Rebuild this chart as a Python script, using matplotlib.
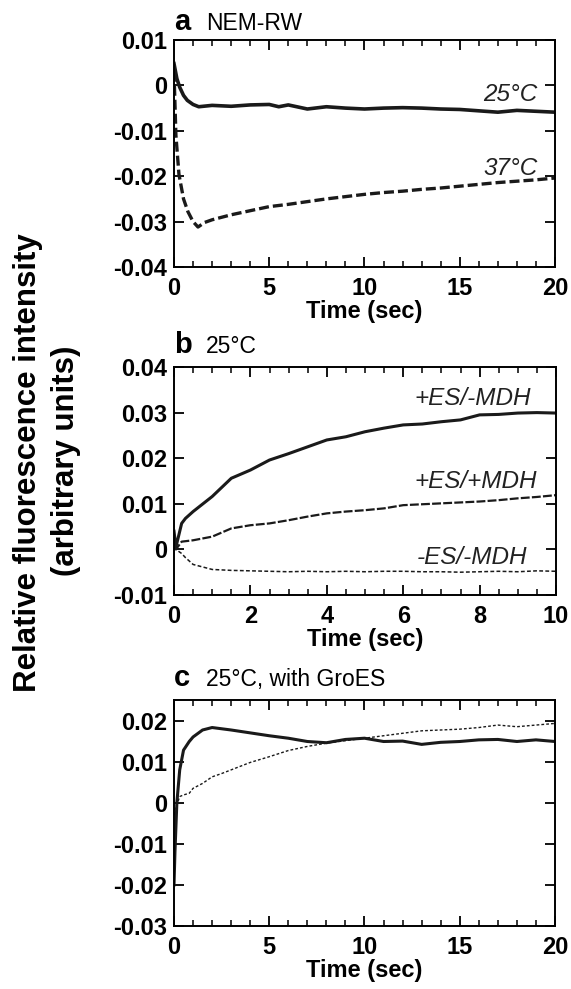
import matplotlib
matplotlib.use("Agg")
import matplotlib.pyplot as plt
from matplotlib.ticker import MultipleLocator, FuncFormatter

plt.rcParams['font.family'] = ['Liberation Sans', 'DejaVu Sans']

# ---------------- data ----------------
# panel a: NEM-RW
a_t25 = [0, 0.15, 0.3, 0.5, 0.7, 1.0, 1.3, 2, 3, 4, 5, 5.5, 6, 7, 8, 9, 10, 11, 12, 13, 14, 15, 16, 17, 18, 19, 20]
a_y25 = [0.0048, 0.0015, -0.0004, -0.0022, -0.0033, -0.0042, -0.0047, -0.0044, -0.0046, -0.0043, -0.0042,
         -0.0047, -0.0043, -0.0052, -0.0047, -0.0050, -0.0052, -0.0050, -0.0049, -0.0050, -0.0052, -0.0053,
         -0.0056, -0.0059, -0.0055, -0.0057, -0.0059]
a_t37 = [0, 0.1, 0.26, 0.5, 0.73, 1.0, 1.26, 1.6, 2, 3, 4, 5, 6, 7, 8, 9, 10, 11, 12, 13, 14, 15, 16, 17, 18, 19, 20]
a_y37 = [0.0030, -0.0110, -0.0196, -0.0250, -0.0278, -0.0300, -0.0312, -0.0302, -0.0296, -0.0285, -0.0276,
         -0.0267, -0.0262, -0.0256, -0.0250, -0.0245, -0.0240, -0.0236, -0.0233, -0.0229, -0.0226, -0.0222,
         -0.0218, -0.0214, -0.0211, -0.0208, -0.0204]

# panel b: 25°C
b_t = [0, 0.05, 0.2, 0.3, 0.5, 1.0, 1.5, 2.0, 2.5, 3.0, 3.5, 4.0, 4.5, 5.0, 5.5, 6.0, 6.5, 7.0, 7.5, 8.0, 8.5, 9.0, 9.5, 10.0]
b_es_nomdh = [0.0040, 0.0005, 0.0057, 0.0068, 0.0083, 0.0116, 0.0156, 0.0174, 0.0196, 0.0210, 0.0225, 0.0240,
              0.0247, 0.0258, 0.0266, 0.0273, 0.0275, 0.0280, 0.0284, 0.0295, 0.0296, 0.0299, 0.0300, 0.0299]
b_es_mdh = [0.0030, 0.0000, 0.0017, 0.0018, 0.0020, 0.0028, 0.0046, 0.0053, 0.0057, 0.0064, 0.0072, 0.0079,
            0.0083, 0.0086, 0.0090, 0.0097, 0.0099, 0.0101, 0.0103, 0.0105, 0.0108, 0.0112, 0.0115, 0.0119]
b_noes_nomdh = [0.0005, 0.0000, -0.0009, -0.0018, -0.0033, -0.0044, -0.0046, -0.0047, -0.0048, -0.0049, -0.0048, -0.0049,
                -0.0048, -0.0049, -0.0048, -0.0048, -0.0049, -0.0049, -0.0050, -0.0049, -0.0048, -0.0049, -0.0047, -0.0048]

# panel c: 25°C, with GroES
c_t = [0, 0.05, 0.15, 0.3, 0.5, 0.8, 1.0, 1.5, 2, 2.5, 3, 4, 5, 6, 7, 8, 9, 10, 11, 12, 13, 14, 15, 16, 17, 18, 19, 20]
c_solid = [-0.0200, -0.0120, 0.0000, 0.0080, 0.0128, 0.0149, 0.0160, 0.0177, 0.0183, 0.0180, 0.0177, 0.0170,
           0.0163, 0.0157, 0.0149, 0.0146, 0.0154, 0.0157, 0.0149, 0.0150, 0.0142, 0.0147, 0.0149, 0.0153,
           0.0154, 0.0149, 0.0153, 0.0149]
c_dotted = [-0.0030, -0.0015, -0.0005, 0.0015, 0.0019, 0.0023, 0.0035, 0.0047, 0.0063, 0.0071, 0.0080, 0.0098,
            0.0112, 0.0127, 0.0137, 0.0145, 0.0151, 0.0157, 0.0163, 0.0169, 0.0175, 0.0177, 0.0179, 0.0183,
            0.0189, 0.0185, 0.0189, 0.0193]

# ---------------- figure ----------------
W, H = 571, 989
fig = plt.figure(figsize=(W / 100, H / 100), dpi=100)

TICK_FS = 17
ANN_FS = 17.5
TITLE_FS = 16.5
LETTER_FS = 21


def make_ax(left, top, right, bottom):
    return fig.add_axes([left / W, 1 - bottom / H, (right - left) / W, (bottom - top) / H])


def fmt(v, pos):
    if abs(v) < 1e-12:
        return "0"
    return "%.2f" % v


def style(ax, xmaj, xmin, xlim, ylim, ymaj):
    ax.set_xlim(*xlim)
    ax.set_ylim(*ylim)
    ax.xaxis.set_major_locator(MultipleLocator(xmaj))
    ax.xaxis.set_minor_locator(MultipleLocator(xmin))
    ax.yaxis.set_major_locator(MultipleLocator(ymaj))
    ax.yaxis.set_major_formatter(FuncFormatter(fmt))
    ax.tick_params(axis='both', which='major', direction='in', length=7, width=1.3,
                   top=True, right=True, labelsize=TICK_FS)
    ax.tick_params(axis='x', which='major', pad=7)
    ax.tick_params(axis='y', which='major', pad=5)
    ax.tick_params(axis='x', which='minor', direction='in', length=4, width=1.1, top=True)
    ax.tick_params(axis='y', which='minor', left=False, right=False)
    for lab in ax.get_xticklabels() + ax.get_yticklabels():
        lab.set_fontweight('bold')
    for sp in ax.spines.values():
        sp.set_linewidth(1.4)
    ax.set_xlabel("Time (sec)", fontsize=TICK_FS, fontweight='bold', labelpad=0)


def ann(ax, x, y, s):
    ax.text(x, y, s, transform=ax.transAxes, ha='right', va='center',
            fontsize=ANN_FS, style='italic', color='#222222')


def title(letter, text, baseline_y):
    fig.text(174 / W, 1 - baseline_y / H, letter, fontsize=LETTER_FS, fontweight='bold',
             va='baseline', ha='left')
    fig.text(206 / W, 1 - baseline_y / H, text, fontsize=TITLE_FS, va='baseline', ha='left')


# panel a
axa = make_ax(174, 40, 555, 267)
axa.plot(a_t25, a_y25, color='#1a1a1a', lw=2.6)
axa.plot(a_t37, a_y37, color='#1a1a1a', lw=2.4, linestyle=(0, (3, 1.2)))
style(axa, 5, 1, (0, 20), (-0.04, 0.01), 0.01)
ann(axa, 0.955, 0.76, "25°C")
ann(axa, 0.955, 0.435, "37°C")
title("a", "NEM-RW", 30)

# panel b
axb = make_ax(174, 367, 556, 595)
axb.plot(b_t, b_es_nomdh, color='#1a1a1a', lw=2.2)
axb.plot(b_t, b_es_mdh, color='#1a1a1a', lw=1.6, linestyle=(0, (4, 1)))
axb.plot(b_t, b_noes_nomdh, color='#1a1a1a', lw=1.1, linestyle=(0, (2.5, 1.5)))
style(axb, 2, 0.5, (0, 10), (-0.01, 0.04), 0.01)
ann(axb, 0.935, 0.86, "+ES/-MDH")
ann(axb, 0.95, 0.50, "+ES/+MDH")
ann(axb, 0.925, 0.165, "-ES/-MDH")
title("b", "25°C", 353)

# panel c
axc = make_ax(174, 700, 555, 926)
axc.plot(c_t, c_solid, color='#1a1a1a', lw=2.2)
axc.plot(c_t, c_dotted, color='#1a1a1a', lw=1.0, linestyle=(0, (2, 1.5)))
style(axc, 5, 1, (0, 20), (-0.03, 0.025), 0.01)
title("c", "25°C, with GroES", 686)

# shared y label
fig.text(28 / W, 1 - 463 / H, "Relative fluorescence intensity", rotation=90,
         fontsize=22.5, fontweight='bold', ha='center', va='center')
fig.text(66 / W, 1 - 461 / H, "(arbitrary units)", rotation=90,
         fontsize=22.5, fontweight='bold', ha='center', va='center')

fig.savefig("out.png", dpi=100)
